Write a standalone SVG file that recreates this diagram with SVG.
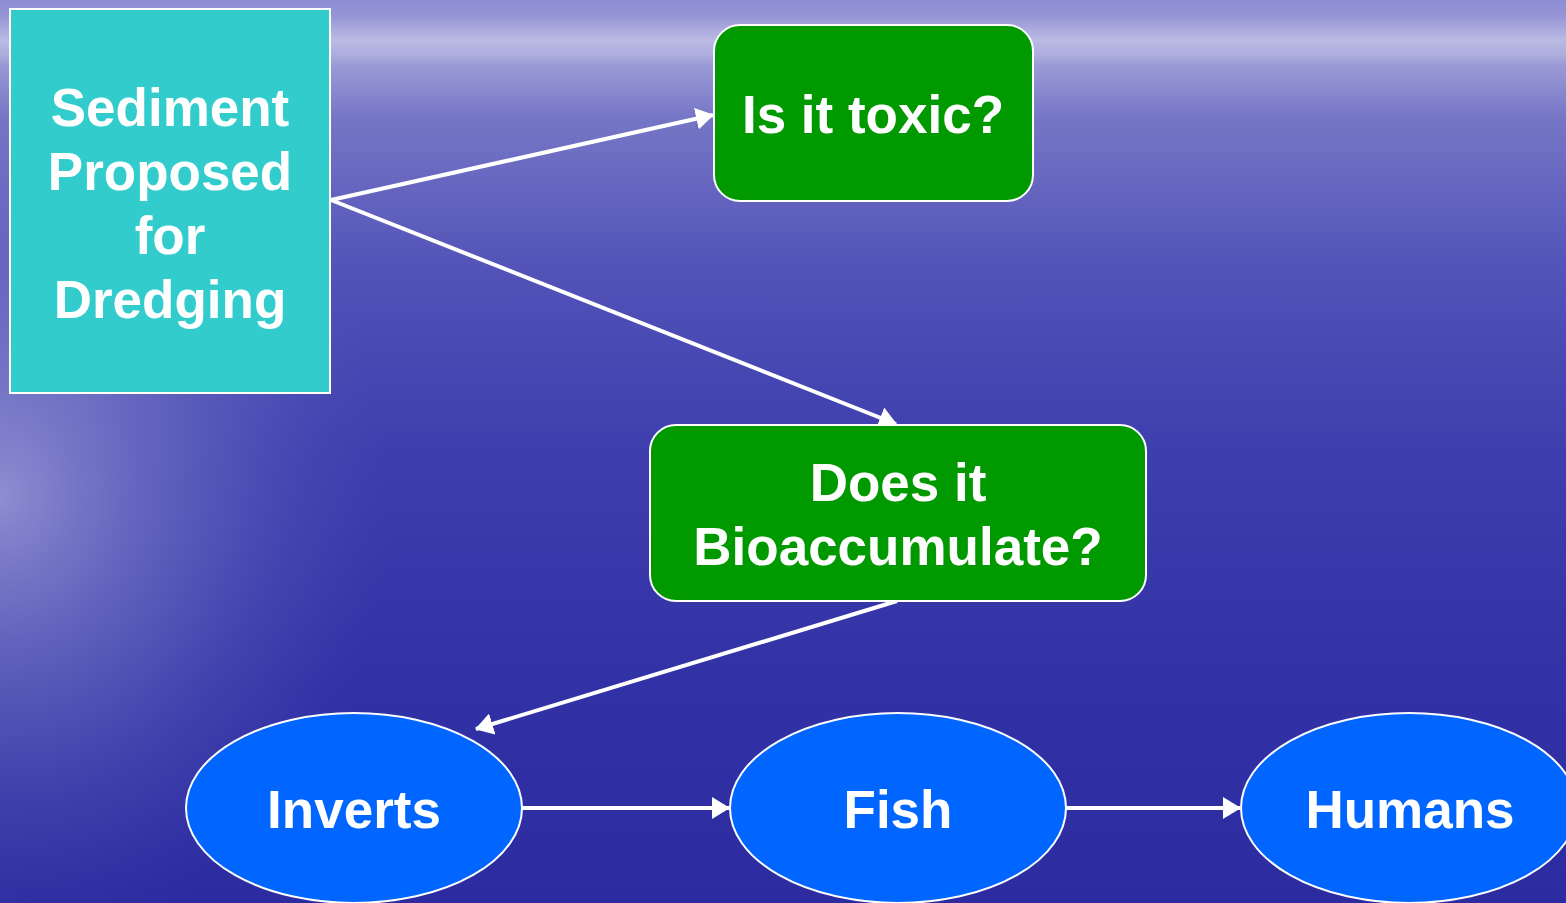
<svg xmlns="http://www.w3.org/2000/svg" width="1566" height="903" viewBox="0 0 1566 903">
<defs>
<linearGradient id="bg" x1="0" y1="0" x2="0" y2="1">
<stop offset="0" stop-color="#8e8ed4"/>
<stop offset="0.06" stop-color="#a2a2da"/>
<stop offset="0.13" stop-color="#7676c6"/>
<stop offset="0.3" stop-color="#5252b8"/>
<stop offset="0.5" stop-color="#3e3eae"/>
<stop offset="0.75" stop-color="#3232a6"/>
<stop offset="1" stop-color="#2c2ca0"/>
</linearGradient>
<radialGradient id="glow" cx="0" cy="0.55" r="0.5" gradientTransform="scale(0.5,1)">
<stop offset="0" stop-color="#d0d0ee" stop-opacity="0.55"/>
<stop offset="0.5" stop-color="#9a9ad8" stop-opacity="0.3"/>
<stop offset="1" stop-color="#6060c0" stop-opacity="0"/>
</radialGradient>
<linearGradient id="haze" x1="0" y1="0" x2="0" y2="1">
<stop offset="0" stop-color="#ffffff" stop-opacity="0"/>
<stop offset="0.5" stop-color="#ffffff" stop-opacity="0.3"/>
<stop offset="1" stop-color="#ffffff" stop-opacity="0"/>
</linearGradient>
<marker id="ah" viewBox="0 0 18 22" refX="17" refY="11" markerWidth="18" markerHeight="22" orient="auto" markerUnits="userSpaceOnUse">
<path d="M0,0 L18,11 L0,22 z" fill="#ffffff"/>
</marker>
<style>
.lbl{font-family:"Liberation Sans",Arial,sans-serif;font-weight:bold;font-size:53px;fill:#ffffff;text-anchor:middle}
.rect{stroke:#ffffff;stroke-width:2}
.conn{stroke:#ffffff;stroke-width:4;fill:none;marker-end:url(#ah)}
</style>
</defs>
<rect width="1566" height="903" fill="url(#bg)"/>
<rect width="1566" height="903" fill="url(#glow)"/>
<rect x="0" y="15" width="1566" height="50" fill="url(#haze)"/>
<g id="connectors">
<line class="conn" x1="331" y1="200" x2="713" y2="115"/>
<line class="conn" x1="331" y1="200" x2="896" y2="424"/>
<line class="conn" x1="897" y1="601" x2="476" y2="729"/>
<line class="conn" x1="522" y1="808" x2="729" y2="808"/>
<line class="conn" x1="1066" y1="808" x2="1240" y2="808"/>
</g>
<g id="sediment">
<rect class="rect" x="10" y="9" width="320" height="384" fill="#33cccc"/>
<text class="lbl" x="170" y="126">Sediment</text>
<text class="lbl" x="170" y="190">Proposed</text>
<text class="lbl" x="170" y="254">for</text>
<text class="lbl" x="170" y="318">Dredging</text>
</g>
<g id="toxic">
<rect class="rect" x="714" y="25" width="319" height="176" rx="26" fill="#009900"/>
<text class="lbl" x="873" y="133">Is it toxic?</text>
</g>
<g id="bioaccumulate">
<rect class="rect" x="650" y="425" width="496" height="176" rx="26" fill="#009900"/>
<text class="lbl" x="898" y="501">Does it</text>
<text class="lbl" x="898" y="565">Bioaccumulate?</text>
</g>
<g id="inverts">
<ellipse class="rect" cx="354" cy="808" rx="168" ry="95" fill="#0066ff"/>
<text class="lbl" x="354" y="828">Inverts</text>
</g>
<g id="fish">
<ellipse class="rect" cx="898" cy="808" rx="168" ry="95" fill="#0066ff"/>
<text class="lbl" x="898" y="828">Fish</text>
</g>
<g id="humans">
<ellipse class="rect" cx="1409" cy="808" rx="168" ry="95" fill="#0066ff"/>
<text class="lbl" x="1410" y="828">Humans</text>
</g>
</svg>
